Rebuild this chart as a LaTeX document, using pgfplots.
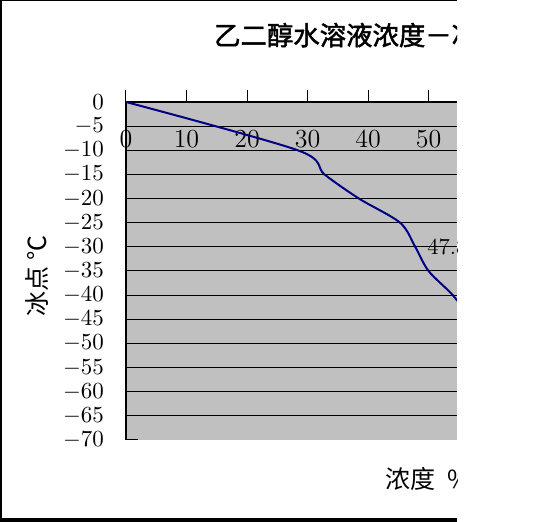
\RequirePackage{fix-cm}
\documentclass[border=0pt]{standalone}
\usepackage{fontspec}
\usepackage{pgfplots}
\usepackage{pgfplotstable}
\pgfplotsset{compat=1.18}
\newfontfamily\cjk{Noto Sans CJK SC}
\newfontfamily\cjktitle[FakeBold=1.8]{Noto Sans CJK SC}
\definecolor{plotgray}{HTML}{C0C0C0}
\definecolor{navyline}{HTML}{000080}

% freezing point of ethylene glycol solution vs concentration
\pgfplotstableread{
conc  fp
0     0
28.4  -10
32.8  -15
38.5  -20
45.3  -25
47.8  -30
50    -35
54    -40
57    -45
59    -50
}\freezing

\begin{document}
\begin{tikzpicture}
\useasboundingbox (0,0) rectangle (268.5pt,-261pt);
\begin{scope}
\clip (0,0) rectangle (228.5pt,-261pt);
\begin{axis}[
  at={(63pt,-220pt)}, anchor=south west,
  scale only axis, width=165.5pt, height=169pt,
  xmin=0, xmax=54.7, ymin=-70, ymax=0,
  axis x line*=top, axis y line*=left,
  axis line style={black, line width=0.6pt},
  axis background/.style={fill=plotgray},
  tick align=inside,
  major tick length=6pt,
  xtick={0,10,...,50},
  ytick={-65,-60,...,0},
  extra y ticks={-70},
  extra y tick style={grid=none},
  ymajorgrids,
  grid style={black, line width=0.5pt},
  xtick style={black, line width=0.5pt, yshift=6pt},
  ytick style={black, line width=0.5pt},
  xticklabel style={font=\fontsize{13}{15}\selectfont, anchor=center, yshift=-18.75pt},
  yticklabel style={font=\fontsize{11.5}{13}\selectfont, xshift=-7.5pt},
  title={\cjktitle 乙二醇水溶液浓度－冰点曲线},
  every axis title/.style={at={(axis description cs:0.245,1.198)}, anchor=west,
    font=\fontsize{13.2}{16}\selectfont},
  ylabel={\cjk 冰点 ℃},
  every axis y label/.style={at={(axis description cs:-0.269,0.485)}, anchor=center,
    rotate=90, font=\fontsize{12.5}{15}\selectfont},
  xlabel={\cjk 浓度\hspace{6pt}\%},
  every axis x label/.style={at={(axis description cs:0.762,-0.115)}, anchor=west,
    font=\fontsize{12.5}{15}\selectfont},
]
\addplot[navyline, line width=1pt, smooth, mark=none] table[x=conc, y=fp] {\freezing};
\addplot[draw=none, mark=none, nodes near coords, point meta=explicit symbolic,
  nodes near coords style={anchor=west, xshift=2.5pt, font=\fontsize{11.5}{13}\selectfont}]
  coordinates {(47.8,-30) [47.8]};
\end{axis}
\end{scope}
\draw[line width=1pt] (0.5pt,0) -- (0.5pt,-261pt);
\draw[line width=0.5pt] (0,-0.25pt) -- (228.5pt,-0.25pt);
\draw[line width=1.7pt] (0,-260pt) -- (228.5pt,-260pt);
\end{tikzpicture}
\end{document}
